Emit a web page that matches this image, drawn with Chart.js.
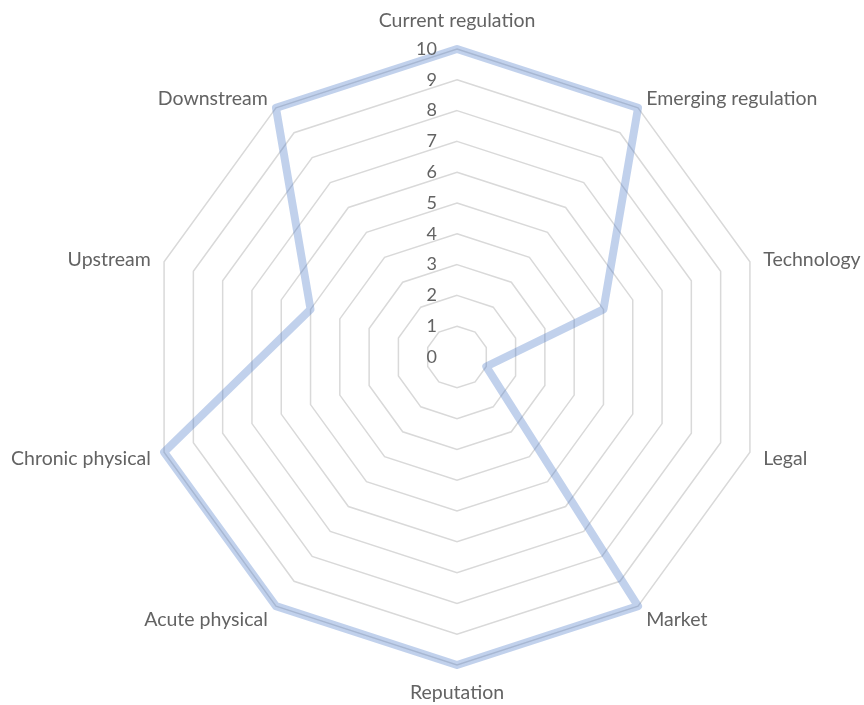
<!DOCTYPE html>
<html><head><meta charset="utf-8">
<style>html,body{margin:0;padding:0;background:#fff}#wrap{width:864px;height:705px;position:relative}</style>
<script src="https://cdn.jsdelivr.net/npm/chart.js@4.4.1/dist/chart.umd.min.js"></script>
</head><body><div id="wrap"><canvas id="c" width="864" height="705"></canvas></div>
<script>
const categories = ["Current regulation","Emerging regulation","Technology","Legal","Market","Reputation","Acute physical","Chronic physical","Upstream","Downstream"];
const riskScores = [10,10,5,1,10,10,10,10,5,10];
const tickValues = [0,1,2,3,4,5,6,7,8,9,10];

const labelPlugin = {
  id: 'customLabels',
  afterDraw(chart) {
    const s = chart.scales.r, ctx = chart.ctx;
    ctx.save();
    ctx.fillStyle = '#636363';
    ctx.font = '18px Lato';
    ctx.textAlign = 'right';
    ctx.textBaseline = 'middle';
    tickValues.forEach(v => {
      const d = s.getDistanceFromCenterForValue(v);
      ctx.fillText(String(v), s.xCenter - 20, s.yCenter - d);
    });
    ctx.font = '19.5px Lato';
    categories.forEach((lab, i) => {
      const p = s.getPointPosition(i, s.drawingArea + 14);
      const c = Math.cos(p.angle), sn = Math.sin(p.angle);
      let align = Math.abs(c) < 0.1 ? 'center' : (c > 0 ? 'left' : 'right');
      let y = p.y + 2;
      if (Math.abs(c) < 0.1) y = p.y + sn * 14;
      ctx.textAlign = align;
      ctx.textBaseline = 'middle';
      ctx.fillText(lab, p.x, y);
    });
    ctx.restore();
  }
};

new Chart(document.getElementById('c'), {
  type: 'radar',
  data: {
    labels: categories,
    datasets: [{
      data: riskScores,
      borderColor: 'rgba(68,114,196,0.33)',
      backgroundColor: 'rgba(0,0,0,0)',
      borderWidth: 8,
      borderJoinStyle: 'round',
      fill: false,
      pointRadius: 0,
      pointHoverRadius: 0,
      tension: 0
    }]
  },
  options: {
    responsive: false,
    devicePixelRatio: 1,
    animation: false,
    layout: { padding: { left: 149, right: 99, top: 49, bottom: 40 } },
    plugins: { legend: { display: false }, tooltip: { enabled: false } },
    scales: {
      r: {
        min: 0, max: 10,
        ticks: { display: false, stepSize: 1 },
        grid: { circular: false, color: '#d9d9d9', lineWidth: 1.5 },
        angleLines: { display: false },
        pointLabels: { display: false }
      }
    }
  },
  plugins: [labelPlugin]
});
</script>
</body></html>
